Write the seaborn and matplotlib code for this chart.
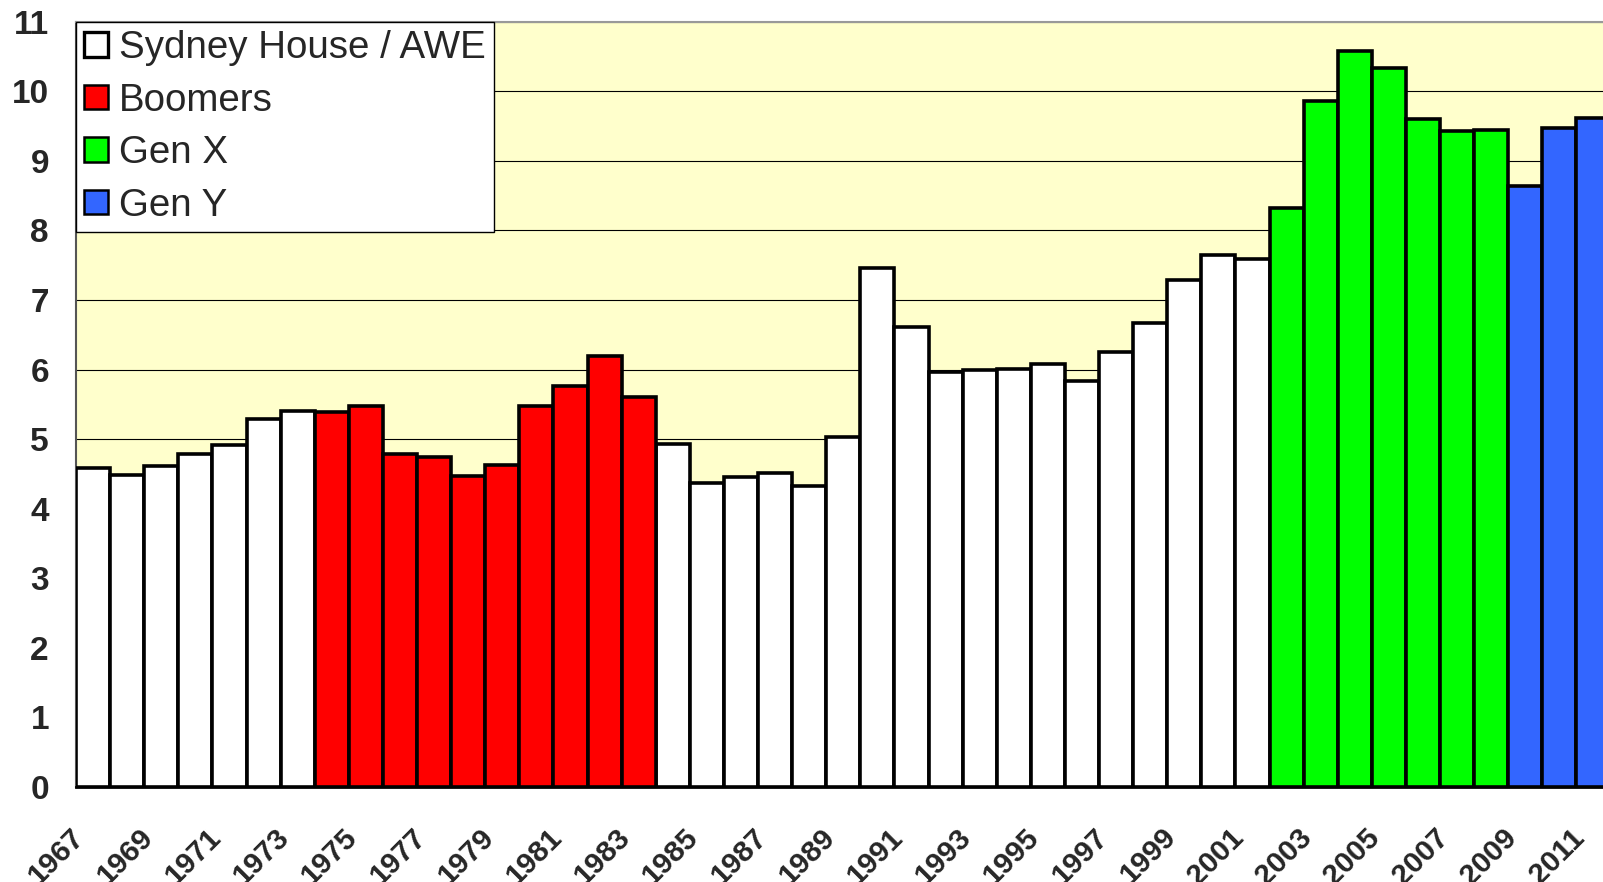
import numpy as np
import pandas as pd
import matplotlib
matplotlib.use("Agg")
import matplotlib.pyplot as plt
from matplotlib.patches import Patch
from matplotlib.transforms import ScaledTranslation
import seaborn as sns

years = list(range(1967, 2012))
values = [4.58, 4.48, 4.61, 4.78, 4.92, 5.29, 5.40,
          5.39, 5.48, 4.78, 4.75, 4.47, 4.63, 5.48, 5.76, 6.20, 5.60,
          4.93, 4.37, 4.45, 4.52, 4.32, 5.03, 7.46, 6.61, 5.96, 5.99, 6.01, 6.08,
          5.84, 6.25, 6.67, 7.29, 7.65, 7.59,
          8.32, 9.86, 10.58, 10.34, 9.60, 9.43, 9.44,
          8.64, 9.47, 9.62]
groups = (["Sydney House / AWE"] * 7 + ["Boomers"] * 10 + ["Sydney House / AWE"] * 18
          + ["Gen X"] * 7 + ["Gen Y"] * 3)
legend_labels = ["Sydney House / AWE", "Boomers", "Gen X", "Gen Y"]
colors = ["#FFFFFF", "#FF0000", "#00FF00", "#3366FF"]
yticks = list(range(0, 12))

df = pd.DataFrame({"year": [str(y) for y in years], "value": values, "group": groups})

sns.set_style("white")
plt.rcParams["font.family"] = ["Liberation Sans", "DejaVu Sans"]

fig = plt.figure(figsize=(16.03, 8.82), dpi=100)
ax = fig.add_axes([76 / 1603, (882 - 787) / 882, 45 * 34.1 / 1603, (787 - 21.7) / 882])
ax.set_facecolor("#FFFFCC")

sns.barplot(data=df, x="year", y="value", hue="group", hue_order=legend_labels,
            palette=dict(zip(legend_labels, colors)), dodge=False, width=1.0,
            saturation=1, edgecolor="black", linewidth=2.6, legend=False, ax=ax,
            zorder=3)

ax.set_xlim(-0.5, len(years) - 0.5)
ax.set_ylim(0, 11)
ax.set_yticks(yticks)
ax.set_yticklabels([str(t) for t in yticks], fontsize=24, fontweight="bold")
ax.yaxis.grid(True, color="black", lw=0.8, zorder=0)
ax.set_axisbelow(True)

# boundary ticks (major, unlabeled), labels at category centers (minor)
ax.set_xticks(np.arange(-0.5, len(years), 1.0))
ax.set_xticklabels([])
ax.set_xticks(np.arange(0, len(years), 2), minor=True)
ax.set_xticklabels([str(y) for y in years[::2]], minor=True, rotation=45,
                   ha="right", va="top", rotation_mode="anchor",
                   fontsize=21.5, fontweight="bold")
ax.tick_params(axis="x", which="major", length=7.5, width=1, color="#555555", direction="out")
ax.tick_params(axis="x", which="minor", length=0, pad=26)
ax.tick_params(axis="y", length=7.5, width=1, color="#555555", pad=12, direction="out")
for lab in ax.get_xticklabels(minor=True):
    lab.set_transform(lab.get_transform() + ScaledTranslation(-0.23, 0, fig.dpi_scale_trans))
ax.set_xlabel("")
ax.set_ylabel("")

ax.spines["top"].set_color("#999999")
ax.spines["top"].set_linewidth(1.5)
ax.spines["left"].set_color("#555555")
ax.spines["left"].set_linewidth(1.5)
ax.spines["right"].set_visible(False)
ax.spines["bottom"].set_color("black")
ax.spines["bottom"].set_linewidth(2)
ax.spines["bottom"].set_zorder(5)

handles = [Patch(facecolor=c, edgecolor="black", linewidth=2.4 if i == 0 else 1.8)
           for i, c in enumerate(colors)]
leg = ax.legend(handles, legend_labels, loc="upper left", bbox_to_anchor=(0, 1),
                borderaxespad=0, fontsize=27.7, frameon=True, fancybox=False,
                edgecolor="black", facecolor="white", framealpha=1,
                handlelength=0.6, handleheight=0.6, handletextpad=0.3,
                labelspacing=0.43, borderpad=0.22)
leg.get_frame().set_linewidth(1)
leg.set_zorder(10)

fig.savefig("out.png", dpi=100, facecolor="white")
